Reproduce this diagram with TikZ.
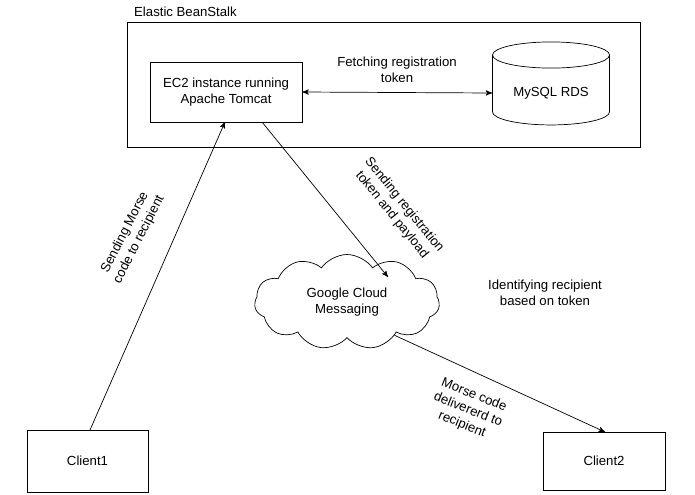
\documentclass[tikz,border=0pt]{standalone}
\usepackage{fontspec}
\setmainfont{Liberation Sans}
\usetikzlibrary{arrows,shapes.geometric,shapes.symbols,positioning}
\tikzset{
    boxsty/.style={draw,rectangle,align=center,font=\fontsize{7.5}{9}\selectfont},
    lblsty/.style={align=center,font=\fontsize{7.5}{9}\selectfont},
    arrsty/.style={->,>=stealth',thin},
}
\begin{document}
\begin{tikzpicture}[x=0.02cm,y=-0.02cm]
\useasboundingbox (0,0) rectangle (695,494);
% containers
\node[boxsty,minimum width=513*0.02cm,minimum height=125*0.02cm] (ebs) at (383.5,84.5) {};
\node[lblsty,anchor=west] (ebsname) at (128,12) {Elastic BeanStalk};
\node[boxsty,minimum width=152*0.02cm,minimum height=60*0.02cm] (ec2) at (226,92) {EC2 instance running\\Apache Tomcat};
\node[boxsty,cylinder,shape border rotate=90,aspect=0.3,minimum width=117*0.02cm,minimum height=83*0.02cm] (rds) at (551,93) {MySQL RDS};
\node[boxsty,cloud,cloud puffs=11,cloud puff arc=110,aspect=2.2,minimum width=185*0.02cm,minimum height=95*0.02cm] (gcm) at (347,302) {Google Cloud\\Messaging};
\node[boxsty,minimum width=121*0.02cm,minimum height=62*0.02cm] (c1) at (87.5,461) {Client1};
\node[boxsty,minimum width=122*0.02cm,minimum height=58*0.02cm] (c2) at (604,461) {Client2};
% connectors
\draw[arrsty,<->] (ec2.east) -- (rds.west);
\draw[arrsty] (262,122) -- (388,277);
\draw[arrsty] (90,430) -- (225,122);
\draw[arrsty] (gcm.-35) -- (605,432);
% labels
\node[lblsty] (fetch) at (397,70) {Fetching registration\\token};
\node[lblsty,rotate=-51] (send) at (398,210) {Sending registration\\token and payload};
\node[lblsty,rotate=63] (morse) at (132,236) {Sending Morse\\code to recipient};
\node[lblsty] (ident) at (545,293) {Identifying recipient\\based on token};
\node[lblsty,rotate=-22] (deliv) at (468,410) {Morse code\\delivererd to\\recipient};
\end{tikzpicture}
\end{document}
